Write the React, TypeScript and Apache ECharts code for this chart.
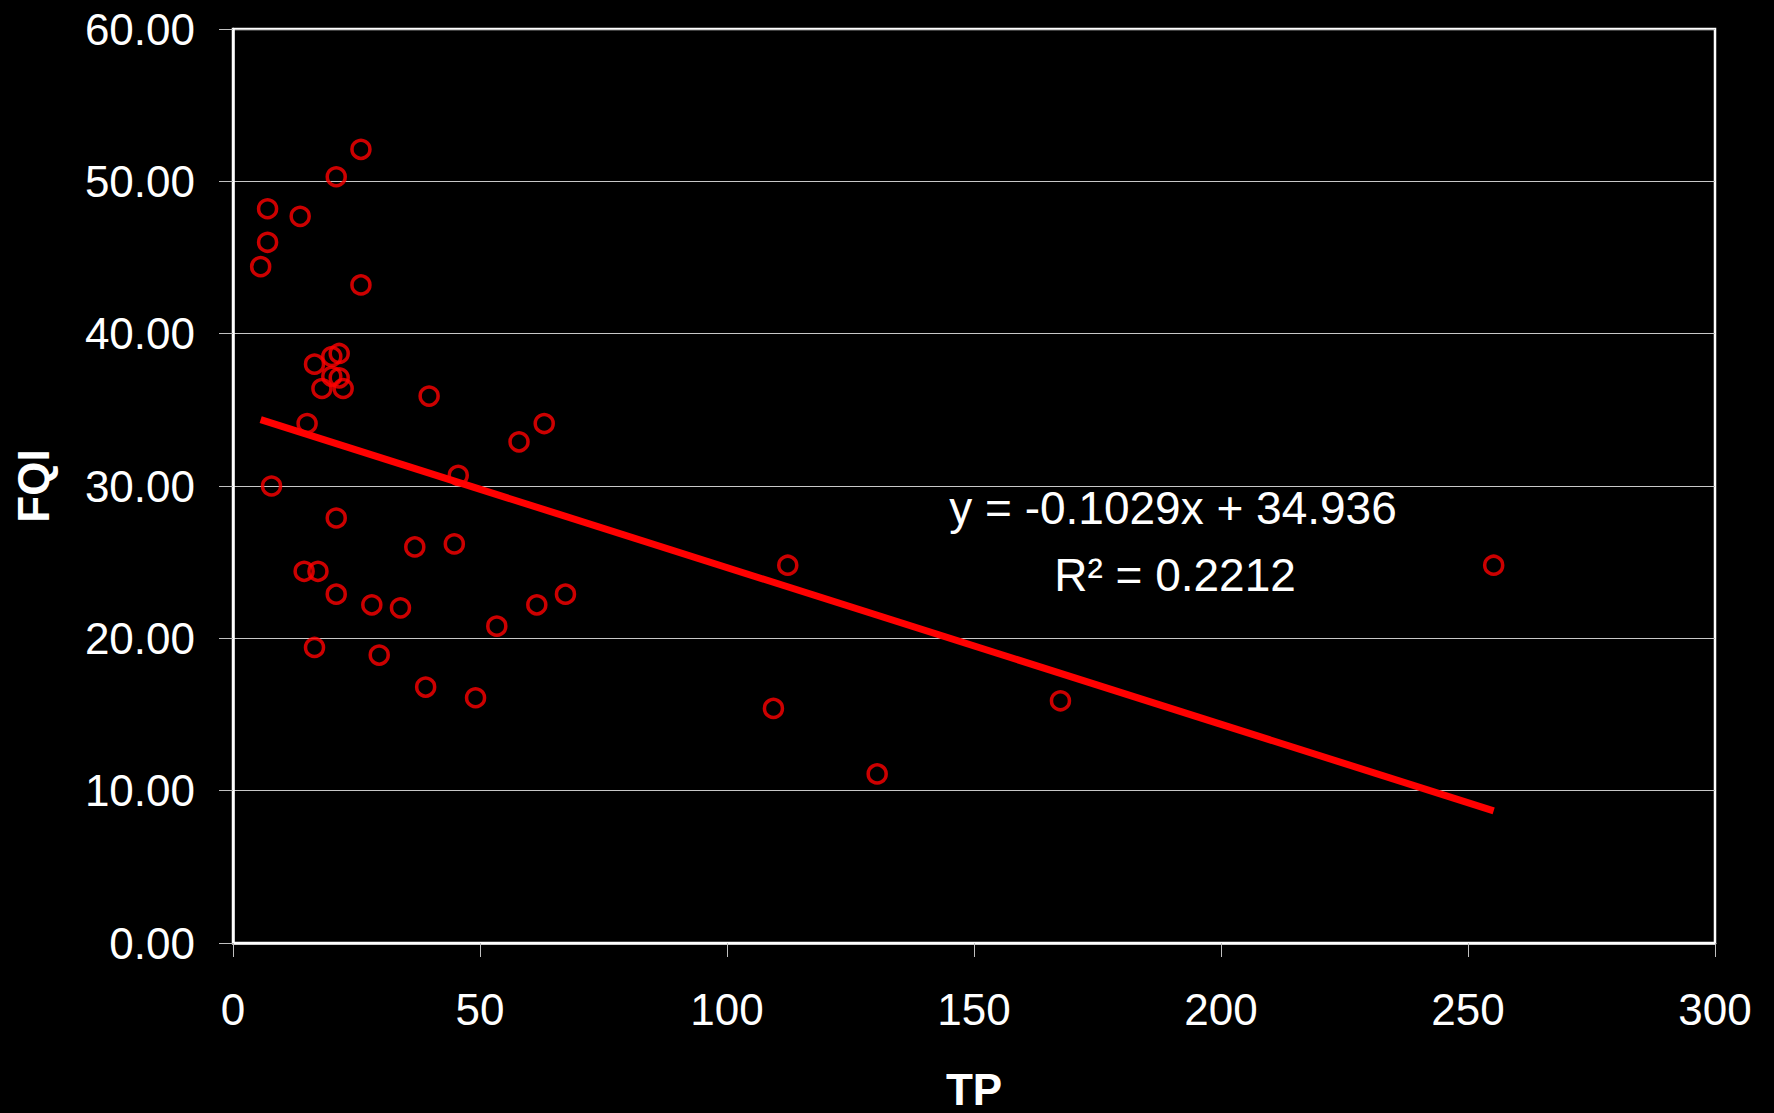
import React, { useEffect, useRef } from "react";
import * as echarts from "echarts";

const tpValues = [25.9, 20.9, 7.0, 13.6, 7.0, 5.6, 25.9, 16.5, 20.0, 21.5, 20.0, 21.5, 18.0, 22.3, 39.7, 15.0, 57.9, 63.0, 45.6, 7.8, 20.9, 36.8, 44.8, 14.4, 17.2, 20.9, 28.1, 33.9, 61.5, 67.3, 53.4, 16.5, 29.6, 39.0, 49.1, 112.3, 109.4, 255.2, 167.5, 130.4];
const fqiValues = [52.1, 50.3, 48.2, 47.7, 46.0, 44.4, 43.2, 38.0, 38.5, 38.7, 37.2, 37.1, 36.4, 36.4, 35.9, 34.1, 32.9, 34.1, 30.7, 30.0, 27.9, 26.0, 26.2, 24.4, 24.4, 22.9, 22.2, 22.0, 22.2, 22.9, 20.8, 19.4, 18.9, 16.8, 16.1, 24.8, 15.4, 24.8, 15.9, 11.1];

const trendSlope = -0.1029;
const trendIntercept = 34.936;
const equationText = "y = -0.1029x + 34.936";
const r2Text = "R² = 0.2212";

const xTicks = { min: 0, max: 300, interval: 50 };
const yTicks = { min: 0, max: 60, interval: 10 };

export default function App() {
  const ref = useRef<HTMLDivElement>(null);
  useEffect(() => {
    if (!ref.current) return;
    const chart = echarts.init(ref.current, null, { renderer: "svg" });
    const points = tpValues.map((x, i) => [x, fqiValues[i]]);
    const xMin = Math.min(...tpValues);
    const xMax = Math.max(...tpValues);
    const trend = [
      [xMin, trendSlope * xMin + trendIntercept],
      [xMax, trendSlope * xMax + trendIntercept],
    ];
    const font = "'Liberation Sans', Arial, sans-serif";
    chart.setOption({
      animation: false,
      backgroundColor: "#000000",
      grid: {
        left: 233,
        right: 59,
        top: 29,
        bottom: 170,
        outerBoundsMode: "none",
        containLabel: false,
        show: true,
        borderColor: "#ffffff",
        borderWidth: 2.5,
      },
      xAxis: {
        type: "value",
        min: xTicks.min,
        max: xTicks.max,
        interval: xTicks.interval,
        name: "TP",
        nameLocation: "middle",
        nameGap: 124,
        nameTextStyle: { color: "#ffffff", fontSize: 44, lineHeight: 44, fontWeight: "bold", fontFamily: font },
        axisLine: { show: true, lineStyle: { color: "#ffffff", width: 2.5 } },
        axisTick: { show: true, length: 14, lineStyle: { color: "#c0c0c0", width: 1 } },
        axisLabel: { color: "#ffffff", fontSize: 44, fontFamily: font, margin: 44 },
        splitLine: { show: false },
      },
      yAxis: {
        type: "value",
        min: yTicks.min,
        max: yTicks.max,
        interval: yTicks.interval,
        name: "FQI",
        nameLocation: "middle",
        nameRotate: 90,
        nameGap: 178,
        nameTextStyle: { color: "#ffffff", fontSize: 44, fontWeight: "bold", fontFamily: font },
        axisLine: { show: true, lineStyle: { color: "#ffffff", width: 2.5 } },
        axisTick: { show: true, length: 14, lineStyle: { color: "#c0c0c0", width: 1 } },
        axisLabel: {
          color: "#ffffff",
          fontSize: 44,
          fontFamily: font,
          margin: 38,
          formatter: (v: number) => v.toFixed(2),
        },
        splitLine: { show: true, lineStyle: { color: "#c8c8c8", width: 1 } },
      },
      series: [
        {
          type: "scatter",
          data: points,
          symbol: "circle",
          symbolSize: 18,
          itemStyle: { color: "transparent", borderColor: "#ff0000", borderWidth: 3.5 },
          z: 2,
        },
        {
          type: "line",
          data: trend,
          showSymbol: false,
          symbol: "none",
          lineStyle: { color: "#ff0000", width: 7 },
          z: 3,
        },
      ],
      graphic: [
        {
          type: "text",
          x: 1173,
          y: 508,
          style: {
            text: equationText,
            fill: "#ffffff",
            fontSize: 46,
            fontFamily: font,
            align: "center",
            verticalAlign: "middle",
          },
        },
        {
          type: "text",
          x: 1175,
          y: 575,
          style: {
            text: r2Text,
            fill: "#ffffff",
            fontSize: 46,
            fontFamily: font,
            align: "center",
            verticalAlign: "middle",
          },
        },
      ],
    });
    return () => chart.dispose();
  }, []);
  return (
    <div
      ref={ref}
      style={{ position: "absolute", left: 0, top: 0, width: 1774, height: 1113, background: "#000" }}
    />
  );
}
